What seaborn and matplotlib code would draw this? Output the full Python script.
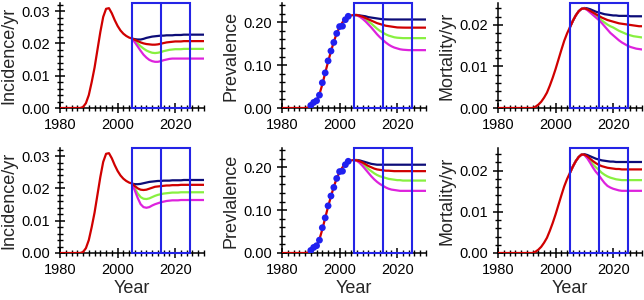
import numpy as np
import pandas as pd
import matplotlib
matplotlib.use("Agg")
import matplotlib.pyplot as plt
from matplotlib.patches import Rectangle
from matplotlib.ticker import MultipleLocator, FormatStrFormatter
import seaborn as sns

#--------------------------------------------------------
# Data
#--------------------------------------------------------

years_hist = list(range(1980, 2006))
years_proj = list(range(2005, 2031))

# incidence / yr
inc_hist = [0, 0, 0, 0, 0, 0, 0, 0, 0.0003, 0.0015, 0.004, 0.008, 0.0125, 0.018,
            0.0235, 0.0282, 0.0307, 0.0309, 0.0293, 0.0272, 0.0254, 0.0240,
            0.0230, 0.0223, 0.0218, 0.0215]
inc_top_navy = [0.0215, 0.0213, 0.0212, 0.0212, 0.0214, 0.0217, 0.0219, 0.0221, 0.0222, 0.0223,
                0.0224, 0.0224, 0.0225, 0.0225, 0.0225, 0.0226, 0.0226, 0.0226, 0.0227, 0.0227,
                0.0227, 0.0227, 0.0227, 0.0227, 0.0227, 0.0227]
inc_top_red = [0.0215, 0.0211, 0.0207, 0.0203, 0.0200, 0.0198, 0.0197, 0.0196, 0.0196, 0.0197,
               0.0199, 0.0201, 0.0203, 0.0204, 0.0205, 0.0206, 0.0206, 0.0206, 0.0207, 0.0207,
               0.0207, 0.0207, 0.0207, 0.0207, 0.0207, 0.0207]
inc_top_green = [0.0215, 0.0207, 0.0199, 0.0191, 0.0184, 0.0178, 0.0174, 0.0171, 0.0170, 0.0171,
                 0.0173, 0.0176, 0.0178, 0.0180, 0.0181, 0.0182, 0.0182, 0.0182, 0.0183, 0.0183,
                 0.0183, 0.0183, 0.0183, 0.0183, 0.0183, 0.0183]
inc_top_magenta = [0.0215, 0.0203, 0.0190, 0.0177, 0.0165, 0.0156, 0.0149, 0.0145, 0.0143, 0.0143,
                   0.0145, 0.0148, 0.0150, 0.0152, 0.0153, 0.0153, 0.0153, 0.0153, 0.0153, 0.0153,
                   0.0153, 0.0153, 0.0153, 0.0153, 0.0153, 0.0153]
inc_bot_navy = [0.0215, 0.0213, 0.0213, 0.0214, 0.0216, 0.0218, 0.0220, 0.0221, 0.0222, 0.0223,
                0.0223, 0.0224, 0.0224, 0.0224, 0.0225, 0.0225, 0.0225, 0.0225, 0.0226, 0.0226,
                0.0226, 0.0226, 0.0226, 0.0226, 0.0226, 0.0226]
inc_bot_red = [0.0215, 0.0207, 0.0200, 0.0196, 0.0195, 0.0196, 0.0199, 0.0202, 0.0205, 0.0206,
               0.0207, 0.0208, 0.0209, 0.0209, 0.0210, 0.0210, 0.0210, 0.0211, 0.0211, 0.0211,
               0.0211, 0.0211, 0.0211, 0.0211, 0.0211, 0.0211]
inc_bot_green = [0.0215, 0.0199, 0.0184, 0.0173, 0.0168, 0.0167, 0.0169, 0.0173, 0.0177, 0.0180,
                 0.0182, 0.0184, 0.0185, 0.0186, 0.0187, 0.0187, 0.0187, 0.0188, 0.0188, 0.0188,
                 0.0188, 0.0188, 0.0188, 0.0188, 0.0188, 0.0188]
inc_bot_magenta = [0.0215, 0.0193, 0.0170, 0.0151, 0.0142, 0.0140, 0.0142, 0.0147, 0.0151, 0.0154,
                   0.0157, 0.0159, 0.0161, 0.0162, 0.0163, 0.0163, 0.0163, 0.0164, 0.0164, 0.0164,
                   0.0164, 0.0164, 0.0164, 0.0164, 0.0164, 0.0164]

# prevalence
prev_obs_years = [1990, 1991, 1992, 1993, 1994, 1995, 1996, 1997, 1998, 1999, 2000, 2001, 2002, 2003]
prev_obs = [0.006, 0.013, 0.017, 0.030, 0.059, 0.082, 0.110, 0.133, 0.153, 0.174, 0.190, 0.191, 0.206, 0.214]
prev_hist = [0, 0, 0, 0, 0, 0, 0, 0, 0, 0.001, 0.004, 0.009, 0.017, 0.032, 0.055,
             0.082, 0.108, 0.132, 0.155, 0.174, 0.189, 0.200, 0.208, 0.213, 0.216, 0.217]
prev_top_navy = [0.217, 0.217, 0.216, 0.215, 0.214, 0.212, 0.211, 0.210, 0.209, 0.208,
                 0.207, 0.2068, 0.2066, 0.2065, 0.2065, 0.2065, 0.2065, 0.2065, 0.2065, 0.2065,
                 0.2065, 0.2065, 0.2065, 0.2065, 0.2065, 0.2065]
prev_top_red = [0.217, 0.217, 0.215, 0.213, 0.210, 0.207, 0.204, 0.201, 0.198, 0.196,
                0.194, 0.192, 0.191, 0.190, 0.189, 0.188, 0.1878, 0.1876, 0.1875, 0.1875,
                0.1875, 0.1875, 0.1875, 0.1875, 0.1875, 0.1875]
prev_top_green = [0.217, 0.216, 0.214, 0.211, 0.207, 0.202, 0.197, 0.191, 0.185, 0.180,
                  0.176, 0.172, 0.169, 0.167, 0.165, 0.164, 0.1635, 0.163, 0.163, 0.163,
                  0.163, 0.163, 0.163, 0.163, 0.163, 0.163]
prev_top_magenta = [0.217, 0.216, 0.213, 0.208, 0.202, 0.195, 0.188, 0.180, 0.172, 0.165,
                    0.159, 0.153, 0.148, 0.144, 0.141, 0.139, 0.137, 0.136, 0.1355, 0.135,
                    0.135, 0.135, 0.135, 0.135, 0.135, 0.135]
prev_bot_navy = [0.217, 0.217, 0.216, 0.214, 0.212, 0.210, 0.208, 0.207, 0.206, 0.206,
                 0.206, 0.206, 0.206, 0.206, 0.206, 0.206, 0.206, 0.206, 0.206, 0.206,
                 0.206, 0.206, 0.206, 0.206, 0.206, 0.206]
prev_bot_red = [0.217, 0.216, 0.214, 0.211, 0.207, 0.203, 0.200, 0.197, 0.195, 0.194,
                0.193, 0.192, 0.192, 0.1915, 0.191, 0.191, 0.191, 0.191, 0.191, 0.191,
                0.191, 0.191, 0.191, 0.191, 0.191, 0.191]
prev_bot_green = [0.217, 0.216, 0.213, 0.208, 0.202, 0.196, 0.191, 0.186, 0.182, 0.179,
                  0.177, 0.175, 0.173, 0.172, 0.171, 0.170, 0.170, 0.169, 0.169, 0.169,
                  0.169, 0.169, 0.169, 0.169, 0.169, 0.169]
prev_bot_magenta = [0.217, 0.215, 0.210, 0.203, 0.195, 0.187, 0.179, 0.172, 0.166, 0.161,
                    0.157, 0.153, 0.150, 0.148, 0.147, 0.146, 0.145, 0.145, 0.145, 0.145,
                    0.145, 0.145, 0.145, 0.145, 0.145, 0.145]

# mortality / yr
mort_hist = [0, 0, 0, 0, 0, 0, 0, 0, 0, 0, 0, 0, 0, 0.0003, 0.0008, 0.0015,
             0.0025, 0.0037, 0.0054, 0.0073, 0.0094, 0.0117, 0.0140, 0.0162, 0.0180, 0.0195]
mort_top_navy = [0.0195, 0.0210, 0.0223, 0.0233, 0.0239, 0.0241, 0.0240, 0.0238, 0.0235, 0.0232,
                 0.0230, 0.0228, 0.0226, 0.0225, 0.0224, 0.0223, 0.0223, 0.0222, 0.0222, 0.0222,
                 0.0222, 0.0221, 0.0221, 0.0221, 0.0221, 0.0221]
mort_top_red = [0.0195, 0.0210, 0.0223, 0.0233, 0.0239, 0.0240, 0.0238, 0.0234, 0.0230, 0.0226,
                0.0222, 0.0218, 0.0215, 0.0212, 0.0210, 0.0208, 0.0206, 0.0204, 0.0203, 0.0202,
                0.0201, 0.0200, 0.0199, 0.0198, 0.0197, 0.0197]
mort_top_green = [0.0195, 0.0210, 0.0223, 0.0233, 0.0239, 0.0240, 0.0237, 0.0232, 0.0227, 0.0222,
                  0.0217, 0.0211, 0.0206, 0.0201, 0.0197, 0.0194, 0.0190, 0.0186, 0.0183, 0.0180,
                  0.0177, 0.0175, 0.0173, 0.0172, 0.0171, 0.0170]
mort_top_magenta = [0.0195, 0.0210, 0.0223, 0.0233, 0.0239, 0.0240, 0.0236, 0.0230, 0.0224, 0.0218,
                    0.0212, 0.0205, 0.0197, 0.0189, 0.0181, 0.0175, 0.0169, 0.0163, 0.0158, 0.0154,
                    0.0150, 0.0147, 0.0145, 0.0143, 0.0142, 0.0141]
mort_bot_navy = [0.0195, 0.0210, 0.0223, 0.0233, 0.0239, 0.0240, 0.0238, 0.0235, 0.0232, 0.0229,
                 0.0227, 0.0225, 0.0224, 0.0223, 0.0222, 0.0222, 0.0221, 0.0221, 0.0221, 0.0221,
                 0.0221, 0.0221, 0.0221, 0.0221, 0.0221, 0.0221]
mort_bot_red = [0.0195, 0.0210, 0.0223, 0.0233, 0.0239, 0.0239, 0.0235, 0.0229, 0.0223, 0.0218,
                0.0214, 0.0211, 0.0209, 0.0207, 0.0206, 0.0205, 0.0204, 0.0204, 0.0203, 0.0203,
                0.0203, 0.0203, 0.0203, 0.0203, 0.0203, 0.0203]
mort_bot_green = [0.0195, 0.0210, 0.0223, 0.0233, 0.0239, 0.0238, 0.0232, 0.0224, 0.0215, 0.0208,
                  0.0202, 0.0195, 0.0190, 0.0186, 0.0183, 0.0181, 0.0179, 0.0178, 0.0177, 0.0177,
                  0.0177, 0.0177, 0.0177, 0.0177, 0.0177, 0.0177]
mort_bot_magenta = [0.0195, 0.0210, 0.0223, 0.0233, 0.0239, 0.0238, 0.0230, 0.0219, 0.0207, 0.0197,
                    0.0189, 0.0179, 0.0170, 0.0163, 0.0159, 0.0156, 0.0154, 0.0152, 0.0151, 0.0151,
                    0.0151, 0.0151, 0.0151, 0.0151, 0.0151, 0.0151]

#--------------------------------------------------------
# Style
#--------------------------------------------------------

sns.set_style("ticks")
plt.rcParams['font.family'] = ['Liberation Sans', 'DejaVu Sans']

NAVY = "#0c0c78"
RED = "#d00000"
GREEN = "#88f040"
MAGENTA = "#dd22dd"
BOX = "#2424e6"
DOT = "#2020f0"


def draw_panel(ax, hist, navy, red, green, magenta, ytop, major, minor, ylabel,
               obs_x=None, obs_y=None, xlabel=False):
    for vals, col in [(navy, NAVY), (green, GREEN), (magenta, MAGENTA), (red, RED)]:
        sns.lineplot(x=years_proj, y=vals, color=col, lw=1.6, ax=ax, zorder=3)
    sns.lineplot(x=years_hist, y=hist, color=RED, lw=1.6, ax=ax, zorder=3)
    if obs_x is not None:
        sns.scatterplot(x=obs_x, y=obs_y, color=DOT, s=24, edgecolor="none", ax=ax, zorder=4)

    # scenario boxes
    ax.add_patch(Rectangle((2005, 0), 20, ytop, fill=False, ec=BOX, lw=1.5,
                           clip_on=False, zorder=6))
    ax.vlines(2015, 0, ytop, color=BOX, lw=1.5, zorder=6, clip_on=False)

    ax.set_xlim(1980, 2030)
    ax.set_ylim(0, ytop)
    ax.set_xticks([1980, 2000, 2020])
    ax.xaxis.set_minor_locator(MultipleLocator(2))
    ax.yaxis.set_major_locator(MultipleLocator(major))
    ax.yaxis.set_minor_locator(MultipleLocator(minor))
    ax.yaxis.set_major_formatter(FormatStrFormatter('%.2f'))
    ax.tick_params(which='major', direction='inout', length=7, width=1.1,
                   labelsize=10.5, colors='black')
    ax.tick_params(which='minor', direction='inout', length=4, width=1.0, colors='black')
    ax.tick_params(axis='x', which='major', pad=4)
    ax.set_ylabel(ylabel, fontsize=13, labelpad=3)
    ax.set_xlabel("Year" if xlabel else "", fontsize=13, labelpad=2)
    sns.despine(ax=ax)
    for s in ['left', 'bottom']:
        ax.spines[s].set_color('black')
        ax.spines[s].set_linewidth(1.1)


fig = plt.figure(figsize=(6.44, 3.0), dpi=100)
lefts = [60 / 644, 282 / 644, 498 / 644]
w = 144 / 644
h = 0.35
bottoms = [1 - 108 / 300, 1 - 253 / 300]

axes = [[fig.add_axes([l, b, w, h]) for l in lefts] for b in bottoms]

draw_panel(axes[0][0], inc_hist, inc_top_navy, inc_top_red, inc_top_green, inc_top_magenta,
           0.0325, 0.01, 0.002, "Incidence/yr")
draw_panel(axes[0][1], prev_hist, prev_top_navy, prev_top_red, prev_top_green, prev_top_magenta,
           0.245, 0.10, 0.02, "Prevalence", prev_obs_years, prev_obs)
draw_panel(axes[0][2], mort_hist, mort_top_navy, mort_top_red, mort_top_green, mort_top_magenta,
           0.0253, 0.01, 0.002, "Mortality/yr")

draw_panel(axes[1][0], inc_hist, inc_bot_navy, inc_bot_red, inc_bot_green, inc_bot_magenta,
           0.0325, 0.01, 0.002, "Incidence/yr", xlabel=True)
draw_panel(axes[1][1], prev_hist, prev_bot_navy, prev_bot_red, prev_bot_green, prev_bot_magenta,
           0.245, 0.10, 0.02, "Prevlalence", prev_obs_years, prev_obs, xlabel=True)
draw_panel(axes[1][2], mort_hist, mort_bot_navy, mort_bot_red, mort_bot_green, mort_bot_magenta,
           0.0255, 0.01, 0.002, "Mortality/yr", xlabel=True)

fig.savefig("out.png", dpi=100)
